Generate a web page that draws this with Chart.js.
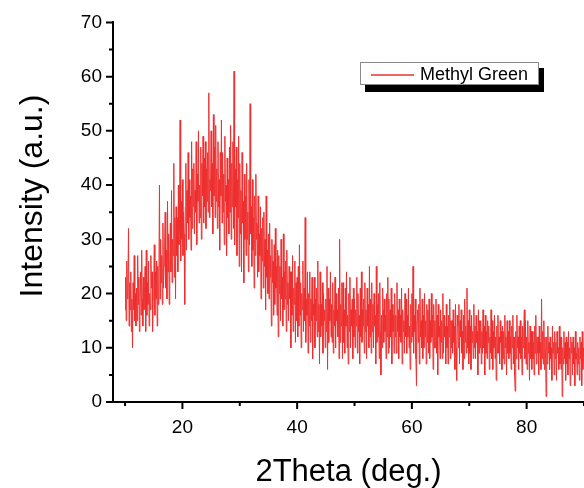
<!DOCTYPE html>
<html lang="en">
<head>
<meta charset="UTF-8">
<title>Methyl Green XRD</title>
<script src="https://cdn.jsdelivr.net/npm/chart.js"></script>
<style>
  html, body { margin: 0; padding: 0; background: #fff; }
  #wrap { width: 584px; height: 488px; }
</style>
</head>
<body>
<div id="wrap"><canvas id="xrdChart" width="584" height="488"></canvas></div>
<script>
// scan grid, degrees 2theta
const scanStart = 10;
const scanStep = 0.1;

// intensity (a.u.), one array per 10 degrees, one row per degree
const int10to20 = [
  17, 23, 15, 26, 19, 21, 32, 14, 22, 17,
  24, 13, 19, 10, 22, 17, 27, 15, 20, 14,
  21, 15, 27, 18, 23, 13, 19, 24, 16, 28,
  19, 14, 23, 17, 20, 25, 13, 28, 16, 22,
  18, 26, 14, 20, 17, 27, 21, 24, 13, 19,
  22, 29, 16, 24, 19, 26, 14, 25, 18, 23,
  40, 19, 30, 22, 27, 18, 33, 21, 25, 29,
  35, 21, 28, 19, 37, 24, 31, 18, 26, 33,
  24, 39, 22, 30, 27, 44, 23, 34, 19, 36,
  27, 34, 24, 40, 29, 33, 52, 26, 37, 30
];
const int20to30 = [
  41, 27, 35, 31, 18, 36, 44, 28, 39, 33,
  46, 30, 41, 34, 38, 28, 48, 32, 43, 36,
  44, 31, 39, 35, 48, 29, 42, 37, 50, 33,
  40, 34, 47, 30, 44, 38, 49, 33, 45, 36,
  48, 32, 43, 37, 46, 35, 57, 34, 41, 39,
  50, 36, 44, 31, 53, 38, 47, 34, 51, 37,
  43, 32, 48, 36, 41, 28, 46, 38, 52, 33,
  46, 35, 42, 29, 49, 37, 40, 27, 45, 34,
  41, 31, 47, 35, 51, 30, 44, 36, 48, 32,
  61, 29, 43, 36, 47, 27, 41, 34, 49, 25
];
const int30to40 = [
  44, 31, 39, 24, 46, 33, 37, 22, 42, 30,
  38, 27, 44, 30, 35, 24, 41, 29, 55, 31,
  36, 25, 41, 28, 34, 21, 38, 27, 42, 30,
  33, 23, 38, 24, 31, 27, 36, 19, 32, 26,
  34, 21, 35, 25, 30, 17, 38, 23, 28, 20,
  31, 19, 33, 23, 27, 14, 30, 22, 26, 16,
  29, 18, 32, 21, 25, 16, 28, 12, 27, 20,
  25, 15, 30, 19, 23, 14, 31, 17, 24, 19,
  26, 13, 28, 18, 22, 15, 25, 19, 24, 10,
  24, 16, 27, 13, 21, 18, 26, 11, 22, 15
];
const int40to50 = [
  23, 12, 25, 14, 29, 16, 22, 10, 20, 17,
  26, 13, 21, 15, 34, 11, 19, 16, 24, 9,
  20, 14, 24, 11, 19, 15, 23, 8, 18, 16,
  23, 10, 19, 15, 21, 12, 26, 13, 18, 7,
  24, 12, 18, 14, 22, 9, 20, 15, 17, 10,
  19, 13, 25, 6, 21, 11, 19, 15, 24, 12,
  18, 11, 22, 9, 17, 14, 23, 10, 20, 15,
  17, 12, 21, 8, 30, 11, 18, 14, 22, 8,
  22, 11, 17, 9, 21, 14, 24, 10, 16, 7,
  20, 13, 23, 10, 17, 14, 19, 8, 21, 12
];
const int50to60 = [
  19, 10, 17, 14, 23, 9, 20, 13, 16, 7,
  21, 12, 24, 11, 17, 14, 19, 9, 22, 13,
  17, 8, 21, 14, 18, 10, 25, 12, 19, 9,
  22, 13, 18, 10, 20, 14, 16, 7, 25, 11,
  18, 12, 20, 8, 22, 13, 5, 16, 10, 21,
  17, 11, 19, 13, 16, 8, 20, 12, 23, 9,
  19, 10, 17, 12, 21, 7, 18, 13, 16, 9,
  20, 12, 16, 9, 22, 13, 17, 8, 19, 12,
  16, 11, 21, 7, 17, 13, 15, 9, 20, 12,
  19, 9, 16, 12, 21, 10, 14, 6, 18, 11
];
const int60to70 = [
  20, 12, 25, 9, 16, 13, 19, 8, 3, 15,
  17, 11, 18, 7, 21, 12, 15, 10, 19, 8,
  16, 10, 20, 12, 15, 7, 18, 11, 17, 9,
  19, 8, 15, 11, 20, 12, 16, 6, 18, 10,
  15, 10, 19, 9, 16, 5, 18, 12, 14, 8,
  17, 11, 15, 8, 20, 9, 16, 12, 14, 7,
  18, 10, 14, 7, 16, 12, 19, 8, 15, 10,
  15, 9, 17, 11, 14, 6, 18, 10, 4, 16,
  14, 10, 18, 7, 15, 12, 17, 9, 13, 6,
  16, 8, 19, 11, 14, 9, 21, 10, 15, 7
];
const int70to80 = [
  17, 9, 14, 6, 16, 11, 13, 8, 18, 10,
  14, 8, 16, 11, 13, 5, 17, 9, 15, 10,
  15, 7, 13, 9, 17, 10, 14, 5, 16, 9,
  13, 8, 15, 11, 14, 6, 12, 9, 17, 8,
  15, 6, 13, 10, 16, 8, 12, 4, 14, 9,
  16, 9, 12, 7, 15, 11, 13, 6, 14, 8,
  13, 7, 16, 10, 12, 5, 15, 9, 13, 8,
  15, 9, 12, 6, 14, 10, 16, 7, 12, 5,
  2, 13, 8, 16, 10, 12, 6, 14, 9, 15,
  8, 12, 5, 14, 10, 13, 17, 8, 15, 7
];
const int80to90 = [
  12, 6, 15, 9, 11, 4, 14, 8, 13, 6,
  13, 8, 11, 5, 14, 9, 16, 7, 12, 9,
  12, 5, 14, 9, 11, 6, 19, 8, 13, 7,
  15, 6, 12, 8, 1, 12, 7, 14, 9, 11,
  6, 12, 8, 10, 4, 14, 9, 11, 5, 13,
  8, 11, 4, 13, 9, 10, 6, 14, 7, 12,
  6, 12, 1, 10, 7, 13, 8, 11, 4, 12,
  7, 11, 5, 13, 8, 10, 3, 12, 9, 11,
  5, 12, 7, 10, 3, 13, 8, 9, 5, 11,
  7, 10, 4, 12, 8, 11, 3, 13, 6, 10,
  7
];

const intensity = [].concat(int10to20, int20to30, int30to40, int40to50,
  int50to60, int60to70, int70to80, int80to90);
const points = intensity.map((v, i) => ({ x: scanStart + i * scanStep, y: v }));

// axes
const xMajorTicks = [20, 40, 60, 80];
const xMinorTicks = [10, 30, 50, 70, 90];
const yMajorTicks = [0, 10, 20, 30, 40, 50, 60, 70];
const yMinorTicks = [5, 15, 25, 35, 45, 55, 65];

const FONT = '"Liberation Sans", Arial, sans-serif';
const RED = '#ee3030';

// ticks, titles and the shadowed legend box
const decor = {
  id: 'decor',
  afterDraw(chart) {
    const { ctx, chartArea: area, scales: { x, y } } = chart;
    ctx.save();
    ctx.strokeStyle = '#000';
    ctx.lineWidth = 2;
    ctx.beginPath();
    yMajorTicks.forEach(v => {
      const py = y.getPixelForValue(v);
      ctx.moveTo(area.left - 7, py); ctx.lineTo(area.left, py);
    });
    yMinorTicks.forEach(v => {
      const py = y.getPixelForValue(v);
      ctx.moveTo(area.left - 4, py); ctx.lineTo(area.left, py);
    });
    xMajorTicks.forEach(v => {
      const px = x.getPixelForValue(v);
      ctx.moveTo(px, area.bottom); ctx.lineTo(px, area.bottom + 7);
    });
    xMinorTicks.forEach(v => {
      const px = x.getPixelForValue(v);
      ctx.moveTo(px, area.bottom); ctx.lineTo(px, area.bottom + 4);
    });
    ctx.stroke();

    // axis titles
    ctx.fillStyle = '#000';
    ctx.font = '31px ' + FONT;
    ctx.textAlign = 'center';
    ctx.textBaseline = 'alphabetic';
    ctx.fillText('2Theta (deg.)', (area.left + area.right) / 2, 481);
    ctx.save();
    ctx.translate(42, 196);
    ctx.rotate(-Math.PI / 2);
    ctx.font = '32px ' + FONT;
    ctx.fillText('Intensity (a.u.)', 0, 0);
    ctx.restore();

    // legend
    const ds = chart.data.datasets[0];
    ctx.fillStyle = '#000';
    ctx.fillRect(365, 68, 179, 24);
    ctx.fillStyle = '#fff';
    ctx.fillRect(360, 62, 179, 22);
    ctx.strokeStyle = '#8a8a8a';
    ctx.lineWidth = 1;
    ctx.strokeRect(360.5, 62.5, 178, 22);
    ctx.strokeStyle = ds.borderColor;
    ctx.lineWidth = 1.5;
    ctx.beginPath();
    ctx.moveTo(371, 75); ctx.lineTo(414, 75);
    ctx.stroke();
    ctx.fillStyle = '#000';
    ctx.font = '18px ' + FONT;
    ctx.textAlign = 'left';
    ctx.textBaseline = 'middle';
    ctx.fillText(ds.label, 420, 75);
    ctx.restore();
  }
};

new Chart(document.getElementById('xrdChart'), {
  type: 'line',
  data: {
    datasets: [{
      label: 'Methyl Green',
      data: points,
      borderColor: RED,
      borderWidth: 1,
      pointRadius: 0,
      tension: 0,
      fill: false
    }]
  },
  options: {
    responsive: false,
    animation: false,
    events: [],
    layout: { padding: { top: 20, right: 0, left: 0, bottom: 0 } },
    plugins: { legend: { display: false }, tooltip: { enabled: false } },
    scales: {
      x: {
        type: 'linear',
        min: 7.9,
        max: 90,
        afterBuildTicks: s => { s.ticks = xMajorTicks.map(v => ({ value: v })); },
        afterFit: s => { s.height = 86; },
        grid: { display: false, drawTicks: false },
        border: { display: true, color: '#000', width: 2 },
        ticks: { color: '#000', padding: 14, font: { family: FONT, size: 19 }, maxRotation: 0 }
      },
      y: {
        min: 0,
        max: 70,
        afterBuildTicks: s => { s.ticks = yMajorTicks.map(v => ({ value: v })); },
        afterFit: s => { s.width = 113; },
        grid: { display: false, drawTicks: false },
        border: { display: true, color: '#000', width: 2 },
        ticks: { color: '#000', padding: 11, font: { family: FONT, size: 19 } }
      }
    }
  },
  plugins: [decor]
});
</script>
</body>
</html>
